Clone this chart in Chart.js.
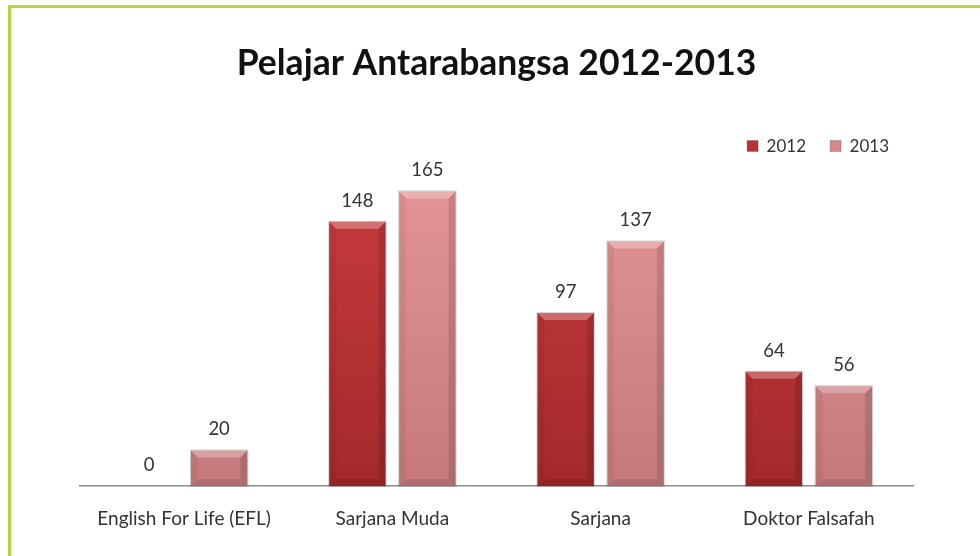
<!DOCTYPE html>
<html>
<head>
<meta charset="utf-8">
<script src="https://cdn.jsdelivr.net/npm/chart.js@4/dist/chart.umd.min.js"></script>
<style>
  html, body { margin: 0; padding: 0; background: #fff; }
  #wrap { width: 980px; height: 556px; position: relative; }
</style>
</head>
<body>
<div id="wrap"><canvas id="c" width="980" height="556"></canvas></div>
<script>
// Programme categories and intake per year
const categories = ['English For Life (EFL)', 'Sarjana Muda', 'Sarjana', 'Doktor Falsafah'];
const years = ['2012', '2013'];
const values2012 = [0, 148, 97, 64];
const values2013 = [20, 165, 137, 56];

const FONT = 'Lato, "Open Sans", sans-serif';

// Base body colours (top, bottom) for each series
const palette = {
  '2012': { top: '#c93c3e', bottom: '#a3292b', legend: '#b83234' },
  '2013': { top: '#e69597', bottom: '#c47a7c', legend: '#d9888a' }
};

function bodyGradient(ctx, key) {
  const chart = ctx.chart;
  const area = chart.chartArea;
  if (!area) return palette[key].top;
  const g = chart.ctx.createLinearGradient(0, area.top, 0, area.bottom);
  g.addColorStop(0, palette[key].top);
  g.addColorStop(1, palette[key].bottom);
  return g;
}

// White page background and the green frame on the left / top edges
const frame = {
  id: 'frame',
  beforeDraw(chart) {
    const c = chart.ctx;
    c.save();
    c.fillStyle = '#ffffff';
    c.fillRect(0, 0, chart.width, chart.height);
    c.strokeStyle = '#b7d43a';
    c.lineWidth = 3;
    c.beginPath();
    c.moveTo(9.5, chart.height + 5);
    c.lineTo(9.5, 6.5);
    c.lineTo(chart.width + 5, 6.5);
    c.stroke();
    c.restore();
  }
};

// Bevelled edges and soft shadow over each bar
const bevel = {
  id: 'bevel',
  afterDatasetsDraw(chart) {
    const c = chart.ctx;
    chart.data.datasets.forEach((ds, di) => {
      const meta = chart.getDatasetMeta(di);
      meta.data.forEach(bar => {
        const L = bar.x - bar.width / 2, R = bar.x + bar.width / 2;
        const T = bar.y, B = bar.base;
        const h = B - T;
        if (h < 1) return;
        const b = Math.min(7, h / 2);
        c.save();
        // top face
        c.fillStyle = 'rgba(255,255,255,0.28)';
        c.beginPath();
        c.moveTo(L, T); c.lineTo(R, T); c.lineTo(R - b, T + b); c.lineTo(L + b, T + b); c.closePath();
        c.fill();
        // left face
        c.fillStyle = 'rgba(0,0,0,0.05)';
        c.beginPath();
        c.moveTo(L, T); c.lineTo(L + b, T + b); c.lineTo(L + b, B - b); c.lineTo(L, B); c.closePath();
        c.fill();
        // right face
        c.fillStyle = 'rgba(0,0,0,0.12)';
        c.beginPath();
        c.moveTo(R, T); c.lineTo(R - b, T + b); c.lineTo(R - b, B - b); c.lineTo(R, B); c.closePath();
        c.fill();
        // bottom face
        c.fillStyle = 'rgba(0,0,0,0.10)';
        c.beginPath();
        c.moveTo(L, B); c.lineTo(L + b, B - b); c.lineTo(R - b, B - b); c.lineTo(R, B); c.closePath();
        c.fill();
        // outline shadow
        c.strokeStyle = 'rgba(0,0,0,0.16)';
        c.lineWidth = 1;
        c.strokeRect(L - 0.5, T - 0.5, R - L + 1, h + 0.5);
        c.restore();
      });
    });
  }
};

// Value label above each bar
const valueLabels = {
  id: 'valueLabels',
  afterDatasetsDraw(chart) {
    const c = chart.ctx;
    c.save();
    c.font = '18.5px ' + FONT;
    c.fillStyle = '#333333';
    c.textAlign = 'center';
    c.textBaseline = 'middle';
    chart.data.datasets.forEach((ds, di) => {
      const meta = chart.getDatasetMeta(di);
      meta.data.forEach((bar, i) => {
        c.fillText(String(ds.data[i]), bar.x, bar.y - 21);
      });
    });
    c.restore();
  }
};

new Chart(document.getElementById('c'), {
  type: 'bar',
  data: {
    labels: categories,
    datasets: [
      { label: years[0], data: values2012, backgroundColor: ctx => bodyGradient(ctx, '2012'),
        categoryPercentage: 0.672, barPercentage: 0.807, borderWidth: 0 },
      { label: years[1], data: values2013, backgroundColor: ctx => bodyGradient(ctx, '2013'),
        categoryPercentage: 0.672, barPercentage: 0.807, borderWidth: 0 }
    ]
  },
  options: {
    responsive: false,
    animation: false,
    devicePixelRatio: 1,
    layout: { padding: { left: 80, right: 67, top: 28, bottom: 5 } },
    plugins: {
      title: {
        display: true,
        text: 'Pelajar Antarabangsa 2012-2013',
        color: '#111111',
        font: { family: FONT, size: 35.5, weight: 'bold' },
        padding: { top: 14, bottom: 29 }
      },
      legend: {
        display: true,
        position: 'top',
        align: 'end',
        labels: {
          boxWidth: 11,
          boxHeight: 11,
          color: '#333333',
          font: { family: FONT, size: 17 },
          padding: 24,
          generateLabels(chart) {
            return chart.data.datasets.map((ds, i) => ({
              text: ds.label,
              fillStyle: palette[ds.label].legend,
              strokeStyle: 'rgba(0,0,0,0.2)',
              lineWidth: 1,
              hidden: false,
              datasetIndex: i,
              fontColor: '#333333'
            }));
          }
        }
      },
      tooltip: { enabled: false }
    },
    scales: {
      x: {
        grid: { display: false, drawTicks: false },
        border: { display: true, color: '#8c8c8c', width: 1.5 },
        ticks: { color: '#333333', font: { family: FONT, size: 19 }, padding: 21 }
      },
      y: {
        display: false,
        min: 0,
        max: 180
      }
    }
  },
  plugins: [frame, bevel, valueLabels]
});
</script>
</body>
</html>
